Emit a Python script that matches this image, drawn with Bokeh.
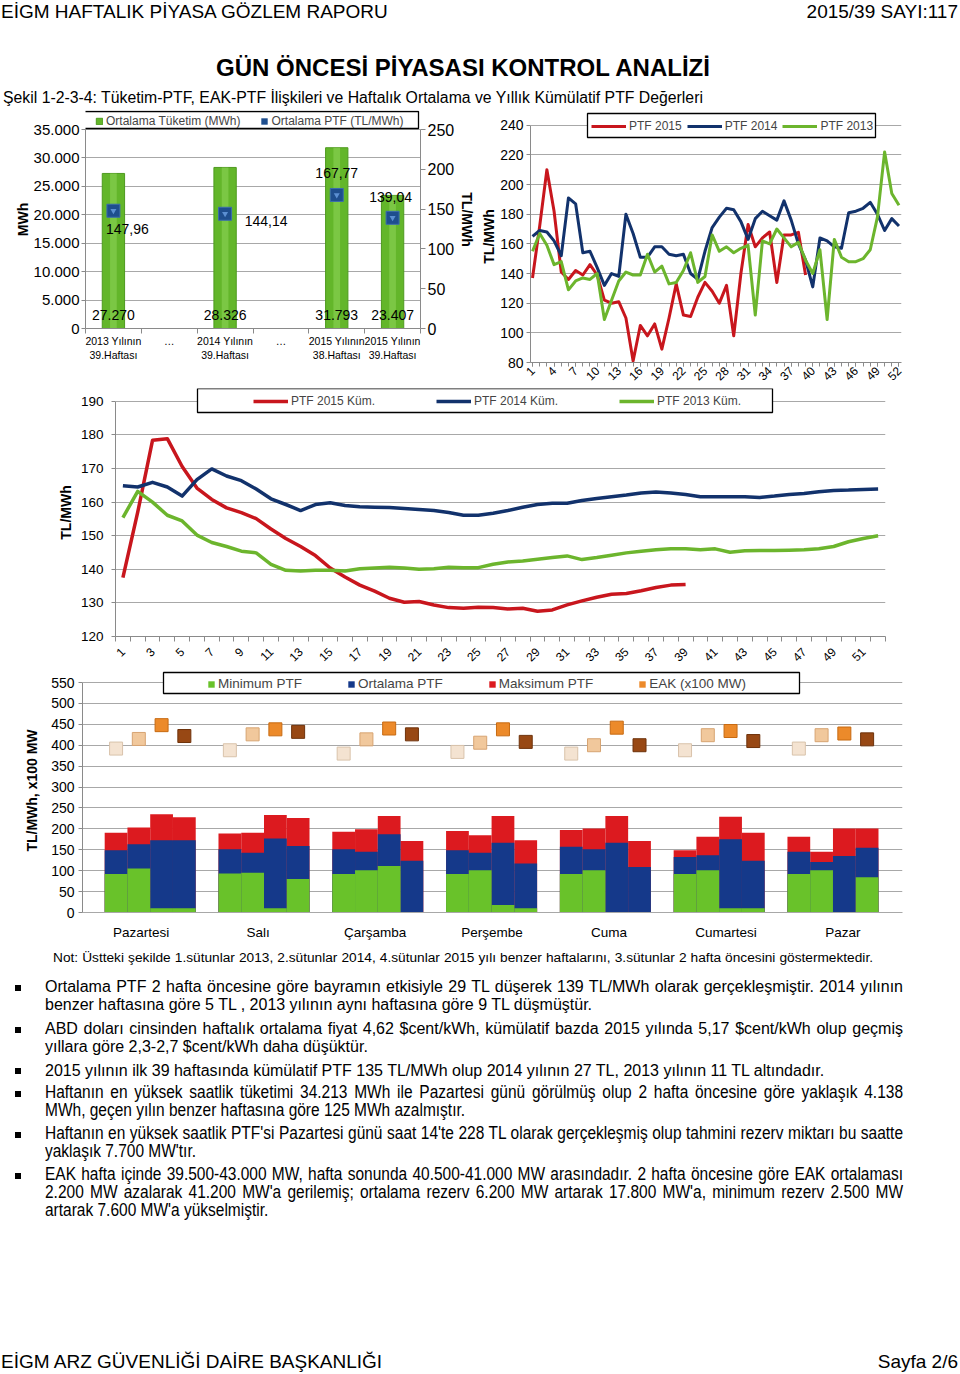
import math
from bokeh.plotting import figure
from bokeh.models import Range1d, LinearAxis, FixedTicker, Legend, LegendItem, BoxAnnotation, Div
from bokeh.layouts import column, row
from bokeh.embed import file_html
from bokeh.resources import INLINE
from bokeh.core.properties import value

FONT = "Liberation Sans"
CSS_FONT = "'Liberation Sans', Arial, Helvetica, sans-serif"

# ---------------------------------------------------------------- data
# Chart 1: weekly average consumption and PTF
c1_categories = ["2013 Yılının\n39.Haftası", "…", "2014 Yılının\n39.Haftası", "…",
                 "2015 Yılının\n38.Haftası", "2015 Yılının\n39.Haftası"]
c1_consumption = [27270, None, 28326, None, 31793, 23407]
c1_consumption_labels = ["27.270", "", "28.326", "", "31.793", "23.407"]
c1_ptf = [147.96, None, 144.14, None, 167.77, 139.04]
c1_ptf_labels = ["147,96", "", "144,14", "", "167,77", "139,04"]
c1_left_ticks = [0, 5000, 10000, 15000, 20000, 25000, 30000, 35000]
c1_left_tick_labels = ["0", "5.000", "10.000", "15.000", "20.000", "25.000", "30.000", "35.000"]
c1_right_ticks = [0, 50, 100, 150, 200, 250]

# Chart 2: weekly PTF
weeks = list(range(1, 53))
ptf_2015 = [137, 172, 210, 182, 141, 136, 142, 139, 146, 139, 122, 120, 121, 110, 81, 105, 98,
            106, 89, 110, 133, 112, 111, 124, 134, 128, 120, 132, 98, 140, 173, 158, 164, 168,
            134, 166, 166, 167.77, 139.04]
ptf_2014 = [165, 169, 168, 162, 152, 191, 187, 154, 155, 144, 132, 140, 138, 180, 167, 151, 151,
            158, 158, 153, 152, 153, 140, 136, 155, 171, 178, 184, 183, 175, 163, 177, 182, 179,
            176, 189, 176, 160, 149, 131, 164, 162, 158, 157, 181, 182, 184, 188, 180, 169, 177, 172]
ptf_2013 = [155, 167, 159, 146, 148, 129, 135, 137, 136, 140, 109, 122, 135, 141, 139, 139, 153,
            141, 145, 133, 134, 142, 154, 134, 138, 166, 155, 158, 154, 157, 159, 112, 162, 160,
            170, 164, 158, 161, 149, 140, 156, 109, 163, 151, 148, 148, 150, 156, 178, 222, 194, 186]
c2_ticks = [80, 100, 120, 140, 160, 180, 200, 220, 240]
c2_week_labels = [1, 4, 7, 10, 13, 16, 19, 22, 25, 28, 31, 34, 37, 40, 43, 46, 49, 52]

# Chart 3: cumulative PTF
cum_2015 = [137.5, 157, 178.4, 178.9, 170.6, 164.2, 160.8, 158.3, 156.9, 155.1, 152.0, 149.2,
            146.8, 144.1, 140.4, 137.7, 135.3, 133.5, 131.4, 130.2, 130.4, 129.4, 128.6, 128.4,
            128.7, 128.6, 128.2, 128.4, 127.5, 127.9, 129.4, 130.6, 131.7, 132.6, 132.8, 133.6,
            134.6, 135.3, 135.5]
cum_2014 = [164.9, 164.5, 165.9, 164.5, 161.8, 166.7, 169.9, 167.8, 166.4, 163.9, 161.0, 159.3,
            157.5, 159.3, 159.8, 159.0, 158.6, 158.5, 158.4, 158.1, 157.8, 157.5, 156.9, 156.1,
            156.1, 156.7, 157.5, 158.5, 159.3, 159.7, 159.7, 160.5, 161.1, 161.6, 162.1, 162.7,
            163.0, 162.7, 162.3, 161.6, 161.6, 161.6, 161.6, 161.4, 161.8, 162.3, 162.6, 163.1,
            163.5, 163.6, 163.8, 163.9]
cum_2013 = [155.4, 163.2, 160.0, 156.1, 154.4, 150.2, 148.0, 146.8, 145.4, 144.9, 141.5, 139.7,
            139.5, 139.7, 139.7, 139.5, 140.2, 140.4, 140.6, 140.4, 140.0, 140.2, 140.6, 140.5,
            140.5, 141.5, 142.2, 142.5, 143.0, 143.5, 144.0, 142.9, 143.5, 144.2, 144.9, 145.4,
            145.8, 146.1, 146.1, 145.8, 146.1, 145.1, 145.5, 145.6, 145.6, 145.7, 145.8, 146.1,
            146.8, 148.2, 149.2, 150.0]
c3_ticks = [120, 130, 140, 150, 160, 170, 180, 190]
c3_week_labels = list(range(1, 53, 2))

# Chart 4: daily min / avg / max PTF and EAK (4 columns per day)
days = ["Pazartesi", "Salı", "Çarşamba", "Perşembe", "Cuma", "Cumartesi", "Pazar"]
min_ptf = [[92, 105, 10, 10], [93, 95, 10, 80], [92, 101, 111, 0], [92, 101, 18, 10],
           [92, 101, 0, 0], [92, 101, 10, 10], [92, 101, 0, 84]]
avg_ptf = [[149, 163, 173, 173], [151, 143, 177, 159], [151, 145, 187, 124], [149, 143, 167, 117],
           [157, 151, 167, 109], [133, 137, 175, 124], [145, 121, 135, 155]]
max_ptf = [[191, 203, 235, 228], [189, 191, 233, 226], [193, 199, 231, 171], [195, 185, 231, 173],
           [197, 201, 231, 171], [149, 181, 229, 191], [181, 145, 201, 201]]
eak = [[392, 415, 448, 422], [388, 426, 438, 432], [380, 414, 440, 426], [384, 406, 438, 408],
       [380, 400, 442, 400], [388, 424, 434, 410], [392, 424, 428, 414]]
c4_ticks = [0, 50, 100, 150, 200, 250, 300, 350, 400, 450, 500, 550]

# ---------------------------------------------------------------- styles
GRID = "#a8a8a8"
AXIS = "#8a8a8a"
RED = "#c8161d"
NAVY = "#12326c"
GREEN = "#6cb52d"
BAR_GREEN = "#63b62a"
MARK_BLUE = "#1e4e8e"
B_RED = "#dc1a1f"
B_BLUE = "#15398a"
B_GREEN = "#69c22a"
EAK_FILL = ["#f4e3d1", "#f1c89c", "#ec8a2a", "#984814"]
EAK_LINE = ["#d9c3ab", "#d7a472", "#c76a12", "#6e320b"]


def headroom(lo, hi, tick_px, extra_px):
    # extend a range upward so that the frame has extra_px of room above its top tick
    return hi + (hi - lo) * extra_px / tick_px


def base_fig(w, h, xr, yr, ml, mr, mt, mb):
    p = figure(width=w, height=h, x_range=xr, y_range=yr, output_backend="svg",
               toolbar_location=None, min_border_left=ml, min_border_right=mr,
               min_border_top=mt, min_border_bottom=mb, outline_line_color=None,
               background_fill_color="white", border_fill_color="white")
    p.xgrid.grid_line_color = None
    p.ygrid.grid_line_color = GRID
    p.ygrid.grid_line_width = 1
    return p


def style_axis(ax, size, tick_out=4, standoff=2):
    ax.major_label_text_font = FONT
    ax.major_label_text_font_size = size
    ax.major_label_text_color = "black"
    ax.axis_label_text_font = FONT
    ax.axis_label_text_font_style = "bold"
    ax.axis_label_text_font_size = "14px"
    ax.axis_label_text_color = "black"
    ax.axis_line_color = AXIS
    ax.major_tick_line_color = AXIS
    ax.minor_tick_line_color = AXIS
    ax.major_tick_in = 0
    ax.major_tick_out = tick_out
    ax.minor_tick_in = 0
    ax.minor_tick_out = 0
    ax.major_label_standoff = standoff


def legend_box(p, left, right, bottom, top):
    p.add_layout(BoxAnnotation(left=left, right=right, bottom=bottom, top=top,
                               left_units="screen", right_units="screen",
                               bottom_units="screen", top_units="screen",
                               fill_color="white", fill_alpha=1.0,
                               line_color="black", line_width=1.3, line_alpha=1.0))


def make_legend(items, loc, size, glyph_w, spacing, label_width=20, glyph_h=8):
    return Legend(items=items, orientation="horizontal", location=loc, padding=2,
                  spacing=spacing, label_standoff=3, glyph_width=glyph_w, glyph_height=glyph_h,
                  label_height=12, label_width=label_width, label_text_font=FONT,
                  label_text_font_size=size, border_line_color=None,
                  background_fill_alpha=0, margin=0)


# ---------------------------------------------------------------- chart 1
p1 = base_fig(478, 278, Range1d(0.5, 6.5), Range1d(0, headroom(0, 35000, 199, 19)), 85, 53, 0, 60)
p1.extra_y_ranges = {"ptf": Range1d(0, headroom(0, 250, 199, 19))}
bx = [i + 1 for i, v in enumerate(c1_consumption) if v is not None]
b_top = [v for v in c1_consumption if v is not None]
b_lbl = [c1_consumption_labels[i - 1] for i in bx]
m_y = [c1_ptf[i - 1] for i in bx]
m_lbl = [c1_ptf_labels[i - 1] for i in bx]

bars1 = p1.vbar(x=bx, top=b_top, width=0.4, fill_color=BAR_GREEN, line_color="#4e9a1f")
p1.vbar(x=bx, top=b_top, width=0.12, fill_color="#8fd65a", line_color=None, fill_alpha=0.55)
p1.scatter(x=bx, y=m_y, marker="square", size=13, fill_color=MARK_BLUE,
           line_color="#3b6cae", y_range_name="ptf")
p1.scatter(x=bx, y=m_y, marker="inverted_triangle", size=6, fill_color="#5b8fd2",
           line_color=None, y_range_name="ptf")
# zero-height bars: only used to draw a square swatch for the PTF legend entry
ptf_key = p1.vbar(x=bx, top=[0] * len(bx), width=0.4, fill_color=MARK_BLUE, line_color=None)

p1.text(x=bx, y=[0] * len(bx), text=b_lbl, text_font=value(FONT), text_font_size="14px",
        text_align="center", text_baseline="bottom", y_offset=-9)
lbl_dx = [14, 41, 0, -2]
lbl_dy = [18, 7, -22, -21]
p1.text(x=bx, y=m_y, text=m_lbl, x_offset=lbl_dx, y_offset=lbl_dy, text_font=value(FONT),
        text_font_size="14px", text_align="center", text_baseline="middle", y_range_name="ptf")

ya = p1.yaxis[0]
t1 = FixedTicker(ticks=c1_left_ticks)
ya.ticker = t1
p1.ygrid.ticker = t1
ya.major_label_overrides = {t: s for t, s in zip(c1_left_ticks, c1_left_tick_labels)}
style_axis(ya, "15px")
ya.axis_label = "MWh"
ya.axis_label_standoff = 0
ya.bounds = (0, 35000)

ra = LinearAxis(y_range_name="ptf", ticker=FixedTicker(ticks=c1_right_ticks), axis_label="TL/MWh")
style_axis(ra, "16px", tick_out=5, standoff=2)
ra.axis_label_standoff = 2
ra.bounds = (0, 250)
p1.add_layout(ra, "right")

xa = p1.xaxis[0]
xa.ticker = FixedTicker(ticks=[1, 2, 3, 4, 5, 6], minor_ticks=[0.5, 1.5, 2.5, 3.5, 4.5, 5.5, 6.5])
xa.major_label_overrides = {i + 1: s for i, s in enumerate(c1_categories)}
style_axis(xa, "10.5px", tick_out=0, standoff=1)
xa.major_tick_line_color = None
xa.minor_tick_out = 5

legend_box(p1, -5, 333, 200, 217)
p1.add_layout(make_legend([LegendItem(label="Ortalama Tüketim (MWh)", renderers=[bars1]),
                           LegendItem(label="Ortalama PTF (TL/MWh)", renderers=[ptf_key])],
                          (10, 200), "12px", 8, 20))

# ---------------------------------------------------------------- chart 2
p2 = base_fig(482, 278, Range1d(0.72, 52.35), Range1d(80, headroom(80, 240, 237, 14.7)), 51, 59, 0, 26)
l15 = p2.line(weeks[:len(ptf_2015)], ptf_2015, line_color=RED, line_width=3, line_join="round")
l14 = p2.line(weeks, ptf_2014, line_color=NAVY, line_width=3, line_join="round")
l13 = p2.line(weeks, ptf_2013, line_color=GREEN, line_width=3, line_join="round")
ya2 = p2.yaxis[0]
t2 = FixedTicker(ticks=c2_ticks)
ya2.ticker = t2
p2.ygrid.ticker = t2
style_axis(ya2, "14px", tick_out=4, standoff=3)
ya2.axis_label = "TL/MWh"
ya2.axis_label_standoff = 0
ya2.bounds = (80, 240)
xa2 = p2.xaxis[0]
xa2.ticker = FixedTicker(ticks=c2_week_labels, minor_ticks=weeks)
style_axis(xa2, "12px", tick_out=4, standoff=2)
xa2.minor_tick_out = 4
xa2.major_label_orientation = math.pi / 4
legend_box(p2, 57, 345, 225, 249)
p2.add_layout(make_legend([LegendItem(label="PTF 2015", renderers=[l15]),
                           LegendItem(label="PTF 2014", renderers=[l14]),
                           LegendItem(label="PTF 2013", renderers=[l13])],
                          (61, 229), "12px", 35, 5))

# ---------------------------------------------------------------- chart 3
p3 = base_fig(960, 280, Range1d(0.5, 52.5), Range1d(120, headroom(120, 190, 237, 13)), 115, 75, 0, 30)
k15 = p3.line(weeks[:len(cum_2015)], cum_2015, line_color=RED, line_width=3.5, line_join="round")
k14 = p3.line(weeks, cum_2014, line_color=NAVY, line_width=3.5, line_join="round")
k13 = p3.line(weeks, cum_2013, line_color=GREEN, line_width=3.5, line_join="round")
ya3 = p3.yaxis[0]
t3 = FixedTicker(ticks=c3_ticks)
ya3.ticker = t3
p3.ygrid.ticker = t3
style_axis(ya3, "13.5px", tick_out=4, standoff=8)
ya3.axis_label = "TL/MWh"
ya3.axis_label_standoff = 4
ya3.bounds = (120, 190)
xa3 = p3.xaxis[0]
xa3.ticker = FixedTicker(ticks=c3_week_labels, minor_ticks=[w - 0.5 for w in weeks] + [52.5])
style_axis(xa3, "12px", tick_out=0, standoff=8)
xa3.major_tick_line_color = None
xa3.minor_tick_out = 5
xa3.major_label_orientation = math.pi / 4
legend_box(p3, 82, 657, 224, 248)
p3.add_layout(make_legend([LegendItem(label="PTF 2015 Küm.", renderers=[k15]),
                           LegendItem(label="PTF 2014 Küm.", renderers=[k14]),
                           LegendItem(label="PTF 2013 Küm.", renderers=[k13])],
                          (138, 228), "12px", 35, 59, label_width=86))

# ---------------------------------------------------------------- chart 4
p4 = base_fig(960, 277, Range1d(-0.095, 7.111), Range1d(0, headroom(0, 550, 230, 14)), 82, 58, 0, 33)
col_w = 0.2
xs, mins, avgs, maxs, eaks, efill, eline = [], [], [], [], [], [], []
for d in range(len(days)):
    for c in range(4):
        xs.append(d + 0.5 + (c - 1.5) * col_w)
        mins.append(min_ptf[d][c])
        avgs.append(avg_ptf[d][c])
        maxs.append(max_ptf[d][c])
        eaks.append(eak[d][c])
        efill.append(EAK_FILL[c])
        eline.append(EAK_LINE[c])
rmax = p4.vbar(x=xs, top=maxs, width=col_w, fill_color=B_RED, line_color=None)
ravg = p4.vbar(x=xs, top=avgs, width=col_w, fill_color=B_BLUE, line_color=None)
rmin = p4.vbar(x=xs, top=mins, width=col_w, fill_color=B_GREEN, line_color=None)
p4.scatter(x=xs, y=eaks, marker="square", size=13, fill_color=efill, line_color=eline)
# zero-height bars: only used to draw a square swatch for the EAK legend entry
eak_key = p4.vbar(x=xs, top=[0] * len(xs), width=col_w, fill_color="#ec8a2a", line_color=None)
ya4 = p4.yaxis[0]
t4 = FixedTicker(ticks=c4_ticks)
ya4.ticker = t4
p4.ygrid.ticker = t4
style_axis(ya4, "14px", tick_out=4, standoff=4)
ya4.axis_label = "TL/MWh, x100 MW"
ya4.axis_label_standoff = 8
ya4.bounds = (0, 550)
xa4 = p4.xaxis[0]
day_pos = [0.42 + 1.028 * i for i in range(len(days))]
xa4.ticker = FixedTicker(ticks=day_pos)
xa4.major_label_overrides = {pos: d for pos, d in zip(day_pos, days)}
style_axis(xa4, "13.5px", tick_out=0, standoff=12)
xa4.major_tick_line_color = None
xa4.axis_line_color = GRID
legend_box(p4, 81, 717, 219, 240)
p4.add_layout(make_legend([LegendItem(label="Minimum PTF", renderers=[rmin]),
                           LegendItem(label="Ortalama PTF", renderers=[ravg]),
                           LegendItem(label="Maksimum PTF", renderers=[rmax]),
                           LegendItem(label="EAK (x100 MW)", renderers=[eak_key])],
                          (125, 221), "13.5px", 8, 45))

# ---------------------------------------------------------------- page texts
def txt(s, left, top, size, extra=""):
    return (f'<div style="position:absolute;left:{left}px;top:{top}px;font-size:{size}px;'
            f'line-height:1;white-space:nowrap;{extra}">{s}</div>')


def jline(s, top, justify=True, narrow=False):
    if narrow:
        k = 0.885
        ex = f"width:{858 / k:.1f}px;transform:scaleX({k});transform-origin:0 0;"
        size, top = 17.5, top - 1.25
    else:
        ex = "width:858px;"
        size = 16
    if justify:
        ex += "text-align:justify;text-align-last:justify;"
    return txt(s, 45, top, size, ex)


top_html = (f'<div style="position:relative;width:960px;height:110px;font-family:{CSS_FONT};color:#000">'
            + txt("EİGM HAFTALIK PİYASA GÖZLEM RAPORU", 1, 2, 19)
            + '<div style="position:absolute;right:2px;top:2px;font-size:19px;line-height:1;white-space:nowrap">2015/39 SAYI:117</div>'
            + txt("GÜN ÖNCESİ PİYASASI KONTROL ANALİZİ", 0, 56, 24,
                  "width:926px;text-align:center;font-weight:bold;")
            + txt("Şekil 1-2-3-4: Tüketim-PTF, EAK-PTF İlişkileri ve Haftalık Ortalama ve Yıllık Kümülatif PTF Değerleri",
                  3, 90, 15.8)
            + '</div>')

bullets = [
    (["Ortalama PTF 2 hafta öncesine göre bayramın etkisiyle 29 TL düşerek 139 TL/MWh olarak gerçekleşmiştir. 2014 yılının",
      "benzer haftasına göre 5 TL , 2013 yılının aynı haftasına göre 9 TL düşmüştür."], 34, False),
    (["ABD doları cinsinden haftalık ortalama fiyat 4,62 $cent/kWh, kümülatif bazda 2015 yılında 5,17 $cent/kWh olup geçmiş",
      "yıllara göre 2,3-2,7 $cent/kWh daha düşüktür."], 76, False),
    (["2015 yılının ilk 39 haftasında kümülatif PTF 135 TL/MWh olup 2014 yılının 27 TL, 2013 yılının 11 TL altındadır."], 117.5, False),
    (["Haftanın en yüksek saatlik tüketimi 34.213 MWh ile Pazartesi günü görülmüş olup 2 hafta öncesine göre yaklaşık 4.138",
      "MWh, geçen yılın benzer haftasına göre 125 MWh azalmıştır."], 140, True),
    (["Haftanın en yüksek saatlik PTF'si Pazartesi günü saat 14'te 228 TL olarak gerçekleşmiş olup tahmini rezerv miktarı bu saatte",
      "yaklaşık 7.700 MW'tır."], 181, True),
    (["EAK hafta içinde 39.500-43.000 MW, hafta sonunda 40.500-41.000 MW arasındadır. 2 hafta öncesine göre EAK ortalaması",
      "2.200 MW azalarak 41.200 MW'a gerilemiş; ortalama rezerv 6.200 MW artarak 17.800 MW'a, minimum rezerv 2.500 MW",
      "artarak 7.600 MW'a yükselmiştir."], 222, True),
]
parts = []
for lines, top, narrow in bullets:
    parts.append(f'<div style="position:absolute;left:15px;top:{top + 5.5}px;width:6px;height:6px;background:#000"></div>')
    for i, s in enumerate(lines):
        parts.append(jline(s, top + 18 * i, justify=(i < len(lines) - 1), narrow=narrow))

bottom_html = (f'<div style="position:relative;width:960px;height:421px;font-family:{CSS_FONT};color:#000">'
               + txt("Not: Üstteki şekilde 1.sütunlar 2013, 2.sütunlar 2014, 4.sütunlar 2015 yılı benzer haftalarını, 3.sütunlar 2 hafta öncesini göstermektedir.",
                     53, 5.5, 13.7, "width:820px;text-align:justify;text-align-last:justify;")
               + "".join(parts)
               + txt("EİGM ARZ GÜVENLİĞİ DAİRE BAŞKANLIĞI", 1, 407, 19)
               + '<div style="position:absolute;right:2px;top:407px;font-size:19px;line-height:1;white-space:nowrap">Sayfa 2/6</div>'
               + '</div>')

top_div = Div(text=top_html, width=960, height=110, margin=0)
bottom_div = Div(text=bottom_html, width=960, height=421, margin=0)

page = column(top_div,
              row(column(p1, margin=0), column(p2, margin=0), spacing=0, margin=0),
              row(p3, margin=0),
              row(p4, margin=0),
              bottom_div,
              spacing=0, margin=0)

open("out.html", "w").write(file_html(page, INLINE))
